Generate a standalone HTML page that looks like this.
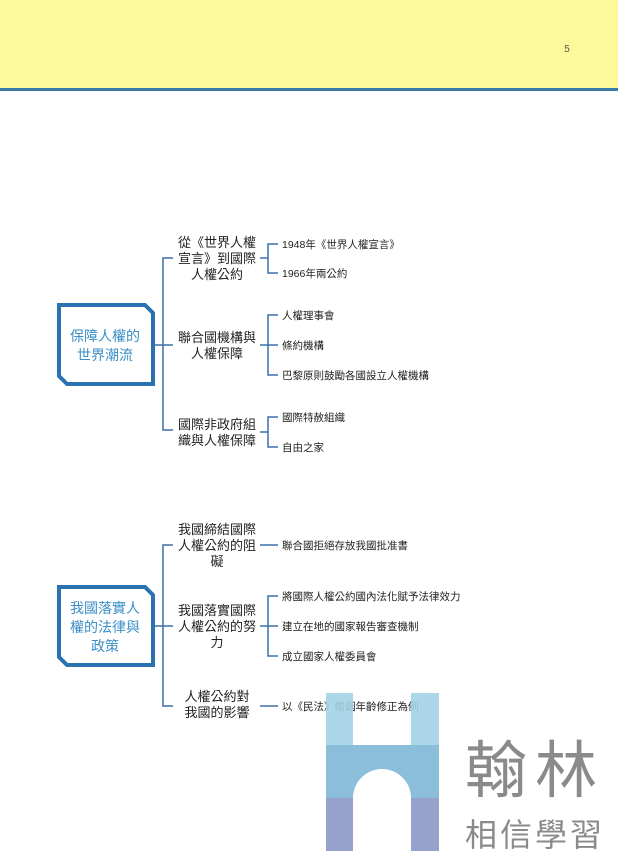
<!DOCTYPE html>
<html><head><meta charset="utf-8"><style>
body{margin:0;width:618px;height:867px;overflow:hidden;background:#fff;}
svg{display:block}
text{font-family:"Liberation Sans","Noto Sans CJK TC",sans-serif;}
.l2{font-size:13px;fill:#222;text-anchor:middle}
.lf{font-size:10.5px;fill:#222}
.bx{font-size:14px;fill:#3a8fc7;text-anchor:middle}
.ln{stroke:#3a72a8;stroke-width:1.5;fill:none}
</style></head><body>
<svg width="618" height="867" viewBox="0 0 618 867">
<rect x="0" y="0" width="618" height="88" fill="#fef89c"/>
<rect x="0" y="88" width="618" height="3" fill="#3a7ca8"/>
<text x="567" y="52" font-size="10" fill="#555" text-anchor="middle">5</text>

<!-- Box 1 -->
<polygon points="59,305 145,305 153,313 153,384 67,384 59,376" fill="#fff" stroke="#2a72b0" stroke-width="4"/>
<text class="bx" x="105" y="341">保障人權的</text>
<text class="bx" x="105" y="360">世界潮流</text>
<path class="ln" d="M155,345 H163 M173,258 H163 V430 H173 M163,345 H173"/>
<text class="l2" x="217" y="247">從《世界人權</text>
<text class="l2" x="217" y="263">宣言》到國際</text>
<text class="l2" x="217" y="279">人權公約</text>
<text class="l2" x="217" y="342">聯合國機構與</text>
<text class="l2" x="217" y="358">人權保障</text>
<text class="l2" x="217" y="429">國際非政府組</text>
<text class="l2" x="217" y="445">織與人權保障</text>
<path class="ln" d="M260,258 H268 M278,244 H268 V273 H278"/>
<path class="ln" d="M260,345 H278 M278,315 H268 V375 H278"/>
<path class="ln" d="M260,432 H268 M278,417 H268 V447 H278"/>
<text class="lf" x="282" y="248">1948年《世界人權宣言》</text>
<text class="lf" x="282" y="277">1966年兩公約</text>
<text class="lf" x="282" y="319">人權理事會</text>
<text class="lf" x="282" y="349">條約機構</text>
<text class="lf" x="282" y="379">巴黎原則鼓勵各國設立人權機構</text>
<text class="lf" x="282" y="421">國際特赦組織</text>
<text class="lf" x="282" y="451">自由之家</text>

<!-- Box 2 -->
<polygon points="59,587 145,587 153,595 153,665 67,665 59,657" fill="#fff" stroke="#2a72b0" stroke-width="4"/>
<text class="bx" x="105" y="613">我國落實人</text>
<text class="bx" x="105" y="632">權的法律與</text>
<text class="bx" x="105" y="651">政策</text>
<path class="ln" d="M155,626 H173 M173,545 H163 V706 H173"/>
<text class="l2" x="217" y="534">我國締結國際</text>
<text class="l2" x="217" y="550">人權公約的阻</text>
<text class="l2" x="217" y="566">礙</text>
<text class="l2" x="217" y="615">我國落實國際</text>
<text class="l2" x="217" y="631">人權公約的努</text>
<text class="l2" x="217" y="647">力</text>
<text class="l2" x="217" y="701">人權公約對</text>
<text class="l2" x="217" y="717">我國的影響</text>
<path class="ln" d="M260,545 H278"/>
<path class="ln" d="M260,626 H278 M278,596 H268 V656 H278"/>
<path class="ln" d="M260,706 H278"/>
<text class="lf" x="282" y="549">聯合國拒絕存放我國批准書</text>
<text class="lf" x="282" y="600">將國際人權公約國內法化賦予法律效力</text>
<text class="lf" x="282" y="630">建立在地的國家報告審查機制</text>
<text class="lf" x="282" y="660">成立國家人權委員會</text>
<text class="lf" x="282" y="710">以《民法》婚姻年齡修正為例</text>

<!-- Logo -->
<g opacity="0.9">
<rect x="326" y="693" width="27" height="52" fill="#a3d3e6"/>
<rect x="411" y="693" width="28" height="52" fill="#a3d3e6"/>
<path d="M326,745 H439 V798 H411 A29,29 0 0 0 353,798 H326 Z" fill="#7fb8d6"/>
<path d="M326,798 H353 V851 H326 Z M411,798 H439 V851 H411 Z" fill="#8b98c6"/>
</g>
<text x="535" y="792" font-size="62" fill="#8a8a8a" text-anchor="middle" font-family="Liberation Sans,Noto Sans CJK TC,sans-serif" letter-spacing="8">翰林</text>
<text x="535" y="846" font-size="32" fill="#8a8a8a" text-anchor="middle" font-family="Liberation Sans,Noto Sans CJK TC,sans-serif" letter-spacing="3">相信學習</text>
</svg>
</body></html>
